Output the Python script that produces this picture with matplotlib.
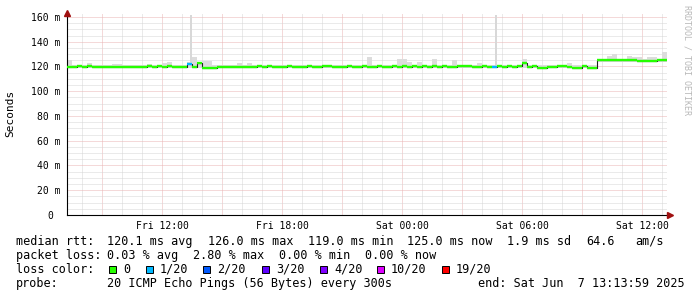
import numpy as np
import matplotlib
matplotlib.use('Agg')
import matplotlib.pyplot as plt
from matplotlib.patches import Rectangle

W, H = 697, 297
MONO = 'DejaVu Sans Mono'

# hours since Fri 00:00, one value per 15 minutes
t_start, t_end, step = 7.25, 37.25, 0.25

median_ms = [
    119.6, 119.6, 120.4, 119.6, 120.4, 119.6, 119.6, 119.6, 119.6, 119.6,
    119.6, 119.6, 119.6, 119.6, 119.6, 119.6, 120.4, 119.6, 120.4, 119.6,
    120.4, 119.6, 119.6, 119.6, 122.0, 119.6, 123.0, 118.8, 118.8, 118.8,
    119.2, 119.2, 119.6, 119.2, 119.6, 119.2, 119.6, 119.2, 120.4, 119.6,
    120.4, 119.6, 119.2, 119.6, 120.4, 119.6, 119.6, 119.6, 120.4, 119.6,
    119.2, 120.4, 120.4, 119.6, 119.6, 119.6, 120.4, 119.6, 119.6, 120.4,
    119.6, 119.6, 120.4, 119.6, 119.6, 120.4, 119.6, 120.4, 119.6, 120.4,
    119.6, 120.4, 119.6, 120.4, 119.6, 120.4, 119.6, 119.6, 120.0, 120.4,
    120.4, 119.6, 119.6, 120.4, 119.6, 119.2, 120.0, 119.6, 120.4, 119.6,
    120.0, 123.0, 119.6, 120.4, 119.0, 119.0, 119.6, 119.6, 120.0, 120.4,
    119.6, 119.0, 119.0, 120.0, 119.0, 119.0, 125.0, 125.0, 125.0, 125.6,
    125.0, 125.0, 125.0, 125.0, 124.6, 124.6, 124.6, 124.6, 125.0, 125.0,
]
# index into loss_colors for every sample
loss_idx = [0] * 24 + [1] + [0] * 60 + [1] + [0] * 34

smoke_lo = [118.4] * 106 + [124.0] * 14
smoke_hi = [
    125.0, 121.0, 121.0, 121.0, 123.0, 121.0, 121.0, 121.5, 121.0, 122.0,
    122.0, 121.0, 121.0, 121.0, 121.0, 121.0, 122.0, 121.0, 121.2, 122.5,
    123.6, 121.0, 121.0, 121.0, 124.0, 127.6, 123.8, 124.7, 124.7, 121.0,
    121.0, 121.0, 121.5, 121.0, 122.6, 121.0, 123.0, 121.0, 121.2, 121.5,
    121.2, 121.0, 121.0, 121.0, 121.2, 121.5, 121.0, 121.0, 121.2, 121.0,
    121.0, 121.2, 121.5, 121.0, 121.0, 121.0, 121.2, 121.0, 121.0, 121.2,
    128.0, 121.0, 121.2, 121.0, 121.0, 121.2, 125.8, 125.8, 124.0, 121.2,
    123.5, 121.2, 121.0, 125.8, 121.0, 121.2, 121.0, 125.0, 121.0, 121.2,
    121.2, 121.0, 123.0, 121.2, 121.0, 121.0, 121.0, 121.0, 121.2, 121.0,
    121.0, 125.8, 121.0, 121.2, 121.0, 121.0, 121.0, 121.0, 121.0, 121.2,
    123.0, 121.0, 121.0, 121.0, 121.0, 121.0, 125.8, 125.8, 128.5, 130.0,
    126.0, 126.0, 128.5, 128.0, 128.0, 126.0, 128.0, 128.0, 126.0, 132.0,
]
spike_t = [13.4, 28.65]
spike_top = [161.5, 161.5]

loss_colors = ['#26ff00', '#00b8ff', '#0059ff', '#5e00ff', '#7e00ff', '#dd00ff', '#ff0000']
loss_labels = ['0', '1/20', '2/20', '3/20', '4/20', '10/20', '19/20']

x_ticks = [12, 18, 24, 30, 36]
x_labels = ['Fri 12:00', 'Fri 18:00', 'Sat 00:00', 'Sat 06:00', 'Sat 12:00']
y_ticks = [0, 20, 40, 60, 80, 100, 120, 140, 160]
y_labels = ['0 ', '20 m', '40 m', '60 m', '80 m', '100 m', '120 m', '140 m', '160 m']

times = t_start + step * np.arange(len(median_ms))

fig = plt.figure(figsize=(W / 100, H / 100), dpi=100)
ax = fig.add_axes([67 / W, (H - 215) / H, 600 / W, 202 / H])
ax.set_xlim(t_start, t_end)
ax.set_ylim(0, 163.2)

# grid
ax.set_xticks(np.arange(9, 37, 3))
ax.set_xticks(np.arange(8, 38, 1), minor=True)
ax.set_yticks(y_ticks)
ax.set_yticks(np.arange(0, 165, 5), minor=True)
ax.grid(which='minor', color='#d6d6d6', ls=(0, (1, 1)), lw=0.72)
ax.grid(which='major', color='#eab4b4', ls=(0, (1, 1)), lw=0.72)
ax.set_axisbelow(True)

ax.set_xticklabels([x_labels[x_ticks.index(t)] if t in x_ticks else '' for t in np.arange(9, 37, 3)],
                   fontfamily=MONO, fontsize=7)
ax.set_yticklabels(y_labels, fontfamily=MONO, fontsize=7)
ax.tick_params(which='both', length=0)
ax.tick_params(axis='y', pad=5)
ax.tick_params(axis='x', pad=4)

for s in ['top', 'right']:
    ax.spines[s].set_visible(False)
for s in ['left', 'bottom']:
    ax.spines[s].set_linewidth(0.8)
    ax.spines[s].set_color('black')

# smoke
ax.bar(times, np.array(smoke_hi) - np.array(smoke_lo), bottom=smoke_lo, width=step,
       align='edge', color='#dcdcdc', lw=0, zorder=2)
ax.bar(spike_t, np.array(spike_top) - 118.4, bottom=118.4, width=0.1,
       align='edge', color='#d8d8d8', lw=0, zorder=2)

# median line, coloured by loss
ax.step(np.append(times, times[-1] + step), np.append(median_ms, median_ms[-1]),
        where='post', color='#202020', lw=0.8, zorder=3)
ax.hlines(median_ms, times, times + step, colors=[loss_colors[k] for k in loss_idx],
          lw=1.7, zorder=4)

# axis arrows
ax.plot([t_start], [163.2], marker='^', color='#a01010', ms=4, clip_on=False, zorder=5)
ax.plot([t_end + 0.15], [0], marker='>', color='#a01010', ms=4, clip_on=False, zorder=5)

fig.text(10 / W, 1 - 113 / H, 'Seconds', rotation=90, ha='center', va='center',
         fontfamily=MONO, fontsize=8)
fig.text(687 / W, 1 - 5 / H, 'RRDTOOL / TOBI OETIKER', rotation=270, ha='center', va='top',
         fontfamily=MONO, fontsize=6, color='#b8b8b8')


def ptext(x, y, s):
    fig.text(x / W, 1 - y / H, s, ha='left', va='baseline', fontfamily=MONO, fontsize=8.5)


ptext(16, 245, 'median rtt:')
for x, s in zip([107, 207.7, 307.7, 407.3, 506.7, 586, 635],
                ['120.1 ms avg', '126.0 ms max', '119.0 ms min', '125.0 ms now',
                 '1.9 ms sd', '64.6', 'am/s']):
    ptext(x, 245, s)

ptext(16, 259, 'packet loss:')
for x, s in zip([107, 192.7, 279.3, 365],
                ['0.03 % avg', '2.80 % max', '0.00 % min', '0.00 % now']):
    ptext(x, 259, s)

ptext(16, 273, 'loss color:')
for x, c, s in zip([109, 146, 203, 262, 320, 377, 442], loss_colors, loss_labels):
    fig.add_artist(Rectangle((x / W, 1 - 273 / H), 7 / W, 7 / H, transform=fig.transFigure,
                             facecolor=c, edgecolor='black', lw=0.7))
    ptext(x + 14, 273, s)

ptext(16, 287, 'probe:')
ptext(107, 287, '20 ICMP Echo Pings (56 Bytes) every 300s')
ptext(478, 287, 'end: Sat Jun  7 13:13:59 2025')

fig.savefig('out.png', dpi=100)
